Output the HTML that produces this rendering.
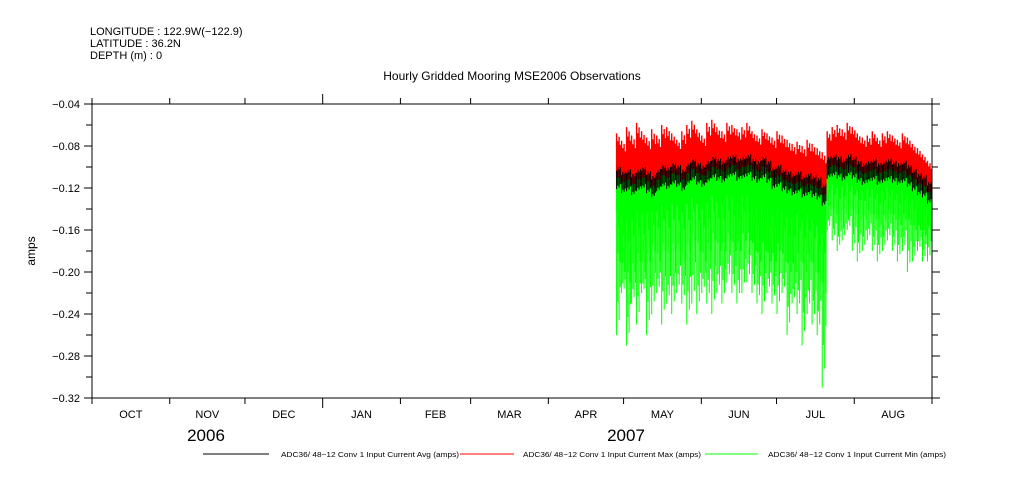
<!DOCTYPE html>
<html><head><meta charset="utf-8"><style>
body{margin:0;background:#fff;}
svg{display:block;font-family:"Liberation Sans",sans-serif;}
</style></head><body>
<svg id="chart" width="1009" height="504" viewBox="0 0 1009 504">
<g font-size="11" fill="#000">
<text x="90" y="35">LONGITUDE : 122.9W(−122.9)</text>
<text x="90" y="47">LATITUDE : 36.2N</text>
<text x="90" y="59">DEPTH (m) : 0</text>
</g>
<text x="512" y="80" text-anchor="middle" font-size="12">Hourly Gridded Mooring MSE2006 Observations</text>
<text x="0" y="0" transform="translate(35,251) rotate(-90)" text-anchor="middle" font-size="12">amps</text>
<g id="series"></g>
<g id="axes"></g>
<g id="legend" font-size="7"></g>
</svg>
<script>
// Data sampled every 2 days starting Apr 28 2007 (day index counted from Oct 1 2006)
const startDay = 209;
const stepDays = 2;
const maxHi = [-0.068,-0.075,-0.062,-0.070,-0.058,-0.066,-0.072,-0.064,-0.070,-0.060,-0.062,-0.068,-0.074,-0.066,-0.060,-0.056,-0.064,-0.070,-0.058,-0.055,-0.062,-0.066,-0.058,-0.060,-0.064,-0.062,-0.058,-0.066,-0.070,-0.064,-0.068,-0.072,-0.066,-0.070,-0.074,-0.078,-0.076,-0.080,-0.074,-0.078,-0.082,-0.086,
 -0.066,-0.062,-0.060,-0.064,-0.058,-0.062,-0.068,-0.072,-0.070,-0.066,-0.072,-0.068,-0.066,-0.070,-0.074,-0.068,-0.072,-0.078,-0.082,-0.088,-0.094];
const avgMid = [-0.110,-0.114,-0.112,-0.116,-0.112,-0.110,-0.114,-0.118,-0.112,-0.108,-0.110,-0.106,-0.108,-0.112,-0.106,-0.102,-0.106,-0.108,-0.104,-0.100,-0.102,-0.104,-0.100,-0.098,-0.102,-0.100,-0.098,-0.102,-0.104,-0.100,-0.104,-0.110,-0.108,-0.112,-0.114,-0.116,-0.114,-0.118,-0.116,-0.118,-0.120,-0.126,
 -0.100,-0.098,-0.100,-0.102,-0.098,-0.100,-0.104,-0.106,-0.104,-0.102,-0.106,-0.104,-0.102,-0.104,-0.106,-0.104,-0.108,-0.112,-0.116,-0.118,-0.124];
const minCore = [-0.19,-0.20,-0.21,-0.20,-0.19,-0.20,-0.19,-0.18,-0.19,-0.18,-0.19,-0.18,-0.18,-0.19,-0.18,-0.17,-0.18,-0.19,-0.18,-0.17,-0.18,-0.18,-0.17,-0.18,-0.18,-0.17,-0.17,-0.18,-0.19,-0.18,-0.19,-0.19,-0.18,-0.19,-0.20,-0.20,-0.19,-0.20,-0.19,-0.20,-0.21,-0.22,
 -0.140,-0.145,-0.150,-0.145,-0.140,-0.145,-0.150,-0.150,-0.145,-0.150,-0.155,-0.150,-0.145,-0.150,-0.155,-0.150,-0.155,-0.160,-0.160,-0.165,-0.160];
const minLo = [-0.26,-0.22,-0.27,-0.23,-0.25,-0.22,-0.26,-0.24,-0.22,-0.25,-0.23,-0.24,-0.22,-0.23,-0.25,-0.23,-0.24,-0.22,-0.23,-0.24,-0.22,-0.23,-0.21,-0.22,-0.23,-0.22,-0.21,-0.22,-0.23,-0.24,-0.22,-0.23,-0.24,-0.22,-0.26,-0.23,-0.24,-0.27,-0.24,-0.25,-0.26,-0.31,
 -0.16,-0.17,-0.18,-0.17,-0.16,-0.18,-0.19,-0.18,-0.17,-0.18,-0.19,-0.18,-0.17,-0.18,-0.19,-0.18,-0.20,-0.19,-0.18,-0.19,-0.19];
const yTicks = [-0.04,-0.08,-0.12,-0.16,-0.20,-0.24,-0.28,-0.32];
const monthLabels = ["OCT","NOV","DEC","JAN","FEB","MAR","APR","MAY","JUN","JUL","AUG"];
const monthDays = [31,30,31,31,28,31,30,31,30,31,31];
const yearLabels = ["2006","2007"];

const NS="http://www.w3.org/2000/svg";
const L=92,R=932,T=104,B=398,TOTAL=335;
const xs=d=>L+(R-L)*d/TOTAL;
const ys=v=>T+(B-T)*(v-(-0.04))/(-0.32-(-0.04));
function mk(tag,attrs,parent){const e=document.createElementNS(NS,tag);for(const k in attrs)e.setAttribute(k,attrs[k]);parent.appendChild(e);return e;}
const sg=document.getElementById('series'),ag=document.getElementById('axes'),lg=document.getElementById('legend');
const SUB=4, subW=(R-L)*stepDays/TOTAL/SUB;
const patA=[1,0.55,0.8,0.35], patB=[0.4,0.9,0.6,1];

function pathFor(n,fn){let d='';for(let i=0;i<n;i++){const x0=xs(startDay+i*stepDays);for(let k=0;k<SUB;k++){const x=(x0+k*subW+0.5).toFixed(1);const r=fn(i,k);d+='M'+x+' '+ys(r[0]).toFixed(1)+'V'+ys(r[1]).toFixed(1);}}return d;}
const n=avgMid.length;
// min (green)
const gMin=mk('g',{},sg);


const pMinCore=mk('path',{d:pathFor(n,(i,k)=>[avgMid[i],avgMid[i]+(minCore[i]-avgMid[i])*patB[k]]),stroke:'#00ff00','stroke-width':1.4,fill:'none'},gMin);


const pMinSpk=mk('path',{d:pathFor(n,(i,k)=>[avgMid[i],minCore[i]+(minLo[i]-minCore[i])*patA[k]]),stroke:'#00ff00','stroke-width':1,fill:'none'},gMin);


// max (red)
const gMax=mk('g',{},sg);


const pMax=mk('path',{d:pathFor(n,(i,k)=>[avgMid[i]+(maxHi[i]-avgMid[i])*(0.6+0.4*patA[k]),avgMid[i]]),stroke:'#ff0000','stroke-width':1.4,fill:'none'},gMax);


// avg (black)
const gAvg=mk('g',{},sg);


const pAvg=mk('path',{d:pathFor(n,(i,k)=>[avgMid[i]+0.004+0.006*patB[k],avgMid[i]-0.004-0.007*patA[k]]),stroke:'#000','stroke-width':1,fill:'none'},gAvg);



// frame
const fr=mk('rect',{x:L,y:T,width:R-L,height:B-T,fill:'none',stroke:'#000','stroke-width':1},ag);


for(let v=-0.04;v>=-0.3201;v-=0.02){const y=ys(v);const major=yTicks.some(t=>Math.abs(t-v)<1e-6);
const a=mk('line',{x1:L-(major?8:6),x2:L,y1:y,y2:y,stroke:'#000'},ag);


const b=mk('line',{x1:R,x2:R+(major?8:6),y1:y,y2:y,stroke:'#000'},ag);

}
yTicks.forEach(v=>{const t=mk('text',{x:L-12,y:ys(v)+4,'text-anchor':'end','font-size':11},ag);t.textContent=v.toFixed(2).replace('-','−');

});
let d=0;
for(let i=0;i<=monthLabels.length;i++){const x=xs(d);const yr=(i==3);
const a=mk('line',{x1:x,x2:x,y1:T-(yr?10:6),y2:T,stroke:'#000'},ag);


const b=mk('line',{x1:x,x2:x,y1:B,y2:B+(yr?10:6),stroke:'#000'},ag);


if(i<monthLabels.length){const t=mk('text',{x:xs(d+monthDays[i]/2),y:418,'text-anchor':'middle','font-size':11},ag);t.textContent=monthLabels[i];


d+=monthDays[i];}}
[[206,yearLabels[0]],[626,yearLabels[1]]].forEach(p=>{const t=mk('text',{x:p[0],y:441,'text-anchor':'middle','font-size':17},ag);t.textContent=p[1];

});
// legend
const legItems=[['#000','ADC36/ 48−12 Conv 1 Input Current Avg (amps)',203,269,281],['#ff0000','ADC36/ 48−12 Conv 1 Input Current Max (amps)',460,514,523],['#00ff00','ADC36/ 48−12 Conv 1 Input Current Min (amps)',705,758,768]];
legItems.forEach(it=>{const ln=mk('line',{x1:it[2],x2:it[3],y1:454,y2:454,stroke:it[0],'stroke-width':1},lg);


const t=mk('text',{x:it[4],y:457,textLength:178,lengthAdjust:'spacingAndGlyphs'},lg);t.textContent=it[1];

});
</script>
</body></html>
